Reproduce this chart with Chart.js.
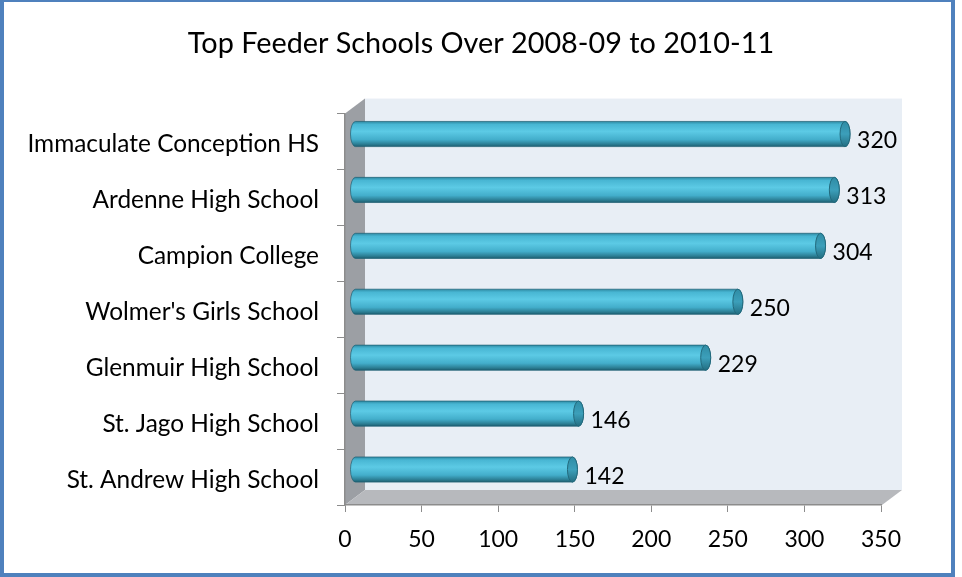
<!DOCTYPE html>
<html>
<head>
<meta charset="utf-8">
<script src="https://cdn.jsdelivr.net/npm/chart.js@4.4.0/dist/chart.umd.min.js"></script>
<style>
  body { margin: 0; background: #fff; }
</style>
</head>
<body>
<canvas id="feederChart" width="962" height="577"></canvas>
<script>
// Chart data
const schools = [
    'Immaculate Conception HS',
    'Ardenne High School',
    'Campion College',
    "Wolmer's Girls School",
    'Glenmuir High School',
    'St. Jago High School',
    'St. Andrew High School'
];
const studentCounts = [320, 313, 304, 250, 229, 146, 142];
const axisMin = 0;
const axisMax = 350;
const axisStep = 50;

const FONT = 'Lato, "Open Sans", sans-serif';

// depth of the 3D box and of the bars inside it
const depthX = 20, depthY = -15;

// Grey walls and floor behind the bars
const wallsPlugin = {
    id: 'walls',
    beforeDraw(chart) {
        const ctx = chart.ctx;
        const a = chart.chartArea;
        ctx.save();
        // back wall
        ctx.fillStyle = '#E8EEF5';
        ctx.fillRect(a.left + depthX, a.top + depthY, a.right - a.left + 1, a.bottom - a.top);
        // side wall
        ctx.beginPath();
        ctx.moveTo(a.left, a.top);
        ctx.lineTo(a.left + depthX, a.top + depthY);
        ctx.lineTo(a.left + depthX, a.bottom + depthY);
        ctx.lineTo(a.left, a.bottom);
        ctx.closePath();
        ctx.fillStyle = '#9C9FA4';
        ctx.fill();
        // floor
        ctx.beginPath();
        ctx.moveTo(a.left, a.bottom);
        ctx.lineTo(a.left + depthX, a.bottom + depthY);
        ctx.lineTo(a.right + depthX + 1, a.bottom + depthY);
        ctx.lineTo(a.right + 1, a.bottom);
        ctx.closePath();
        ctx.fillStyle = '#B7B9BD';
        ctx.fill();
        ctx.restore();
    },
    afterDraw(chart) {
        // blue frame round the picture
        const ctx = chart.ctx;
        ctx.save();
        ctx.strokeStyle = '#4F81BD';
        ctx.lineWidth = 4;
        ctx.strokeRect(2, 0, 951, 575);
        ctx.restore();
    }
};

function drawCylinder(ctx, x0, x1, yc, h) {
    const r = h / 2, rx = 5;
    const top = yc - r, bot = yc + r;
    const g = ctx.createLinearGradient(0, top, 0, bot);
    g.addColorStop(0, '#2E8AA3');
    g.addColorStop(0.12, '#48B6D3');
    g.addColorStop(0.4, '#5CCAE5');
    g.addColorStop(0.72, '#43AECB');
    g.addColorStop(0.9, '#2C7F95');
    g.addColorStop(1, '#1D5E70');
    ctx.beginPath();
    ctx.moveTo(x0, top);
    ctx.lineTo(x1, top);
    ctx.ellipse(x1, yc, rx, r, 0, -Math.PI / 2, Math.PI / 2);
    ctx.lineTo(x0, bot);
    ctx.ellipse(x0, yc, rx, r, 0, Math.PI / 2, Math.PI * 1.5);
    ctx.closePath();
    ctx.fillStyle = g;
    ctx.fill();
    ctx.strokeStyle = 'rgba(30,95,115,0.7)';
    ctx.lineWidth = 1;
    ctx.stroke();
    // end face
    const g2 = ctx.createLinearGradient(0, top, 0, bot);
    g2.addColorStop(0, '#2F8CA5');
    g2.addColorStop(0.5, '#3C9FBA');
    g2.addColorStop(1, '#236E82');
    ctx.beginPath();
    ctx.ellipse(x1, yc, rx, r, 0, 0, Math.PI * 2);
    ctx.fillStyle = g2;
    ctx.fill();
    ctx.strokeStyle = '#22697C';
    ctx.stroke();
}

// Draw each bar as a cylinder, using the positions the library worked out
const cylinderPlugin = {
    id: 'cylinders',
    afterDatasetsDraw(chart) {
        const ctx = chart.ctx;
        const meta = chart.getDatasetMeta(0);
        const dx = depthX / 2, dy = depthY / 2;
        ctx.save();
        meta.data.forEach((bar, i) => {
            const p = bar.getProps(['x', 'y', 'base', 'height'], true);
            drawCylinder(ctx, p.base + dx, p.x + dx, p.y + dy, p.height);
            ctx.fillStyle = '#000';
            ctx.font = '23px ' + FONT;
            ctx.textAlign = 'left';
            ctx.textBaseline = 'middle';
            ctx.fillText(String(studentCounts[i]), p.x + dx + 12, p.y + dy + 7);
        });
        ctx.restore();
    }
};

new Chart(document.getElementById('feederChart'), {
    type: 'bar',
    data: {
        labels: schools,
        datasets: [{
            label: 'Students',
            data: studentCounts,
            backgroundColor: 'rgba(0,0,0,0)',
            borderWidth: 0,
            categoryPercentage: 1,
            barPercentage: 0.45
        }]
    },
    options: {
        indexAxis: 'y',
        responsive: false,
        animation: false,
        layout: { padding: 0 },
        plugins: {
            legend: { display: false },
            tooltip: { enabled: false },
            title: {
                display: true,
                text: 'Top Feeder Schools Over 2008-09 to 2010-11',
                color: '#000',
                font: { family: FONT, size: 28.8, weight: 'normal' },
                padding: { top: 26, bottom: 53 }
            }
        },
        scales: {
            x: {
                min: axisMin,
                max: axisMax,
                ticks: {
                    stepSize: axisStep,
                    color: '#000',
                    font: { family: FONT, size: 23 },
                    padding: 14
                },
                grid: { drawOnChartArea: false, color: '#8C8C8C', tickLength: 7 },
                border: { color: '#8C8C8C', width: 1.5 },
                afterFit(scale) { scale.height = 72; }
            },
            y: {
                ticks: {
                    color: '#000',
                    font: { family: FONT, size: 24.4 },
                    padding: 18,
                    labelOffset: 3
                },
                grid: { drawOnChartArea: false, color: '#8C8C8C', tickLength: 8, offset: true },
                border: { color: '#8C8C8C', width: 1.5 },
                afterFit(scale) { scale.width = 345; }
            },
            // empty spacer on the right so the plot stops at 350 where the picture does
            spacer: {
                type: 'linear',
                position: 'right',
                ticks: { display: false },
                grid: { display: false },
                border: { display: false },
                afterFit(scale) { scale.width = 81; }
            }
        }
    },
    plugins: [wallsPlugin, cylinderPlugin]
});
</script>
</body>
</html>
